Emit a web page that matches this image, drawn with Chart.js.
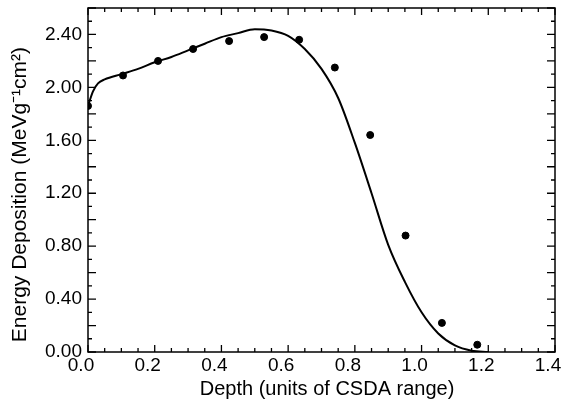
<!DOCTYPE html>
<html>
<head>
<meta charset="utf-8">
<script src="https://cdn.jsdelivr.net/npm/chart.js@4.4.0/dist/chart.umd.min.js"></script>
<style>
  html, body { margin: 0; padding: 0; background: #fff; }
  #wrap { width: 564px; height: 409px; }
</style>
</head>
<body>
<div id="wrap"><canvas id="depthChart"></canvas></div>
<script>
// measured points (dots)
const pointDepth = [0.0, 0.105, 0.21, 0.315, 0.423, 0.528, 0.633, 0.74, 0.846, 0.952, 1.061, 1.167];
const pointEnergy = [1.86, 2.09, 2.20, 2.29, 2.35, 2.38, 2.36, 2.15, 1.64, 0.88, 0.22, 0.055];

// calculated curve
const curveDepth = [0.0, 0.015, 0.03, 0.05, 0.1, 0.15, 0.2, 0.25, 0.3, 0.35, 0.4, 0.45, 0.5, 0.55, 0.6, 0.65, 0.7, 0.75, 0.8, 0.85, 0.9, 0.95, 1.0, 1.05, 1.1, 1.15, 1.2];
const curveEnergy = [1.86, 1.97, 2.03, 2.06, 2.10, 2.14, 2.19, 2.23, 2.28, 2.33, 2.38, 2.41, 2.44, 2.43, 2.39, 2.29, 2.14, 1.92, 1.58, 1.20, 0.81, 0.53, 0.30, 0.14, 0.05, 0.01, 0.0];

const xMajorStep = 0.2;
const yLabelStep = 0.4;
const yMajorStep = 0.2;

const font = "'Liberation Sans', Arial, sans-serif";

const isMultiple = (v, step) => Math.abs(v / step - Math.round(v / step)) < 1e-6;

// frame with inward ticks on all four sides
const framePlugin = {
    id: 'frame',
    afterDraw(chart) {
        const { ctx, chartArea: a, scales } = chart;
        ctx.save();
        ctx.strokeStyle = '#000';
        ctx.lineWidth = 1.5;
        ctx.strokeRect(a.left, a.top, a.right - a.left, a.bottom - a.top);
        ctx.lineWidth = 1.3;
        ctx.beginPath();
        scales.x.ticks.forEach(t => {
            const px = scales.x.getPixelForValue(t.value);
            const len = isMultiple(t.value, xMajorStep) ? 7 : 4;
            ctx.moveTo(px, a.bottom); ctx.lineTo(px, a.bottom - len);
            ctx.moveTo(px, a.top); ctx.lineTo(px, a.top + len);
        });
        scales.y.ticks.forEach(t => {
            const py = scales.y.getPixelForValue(t.value);
            const len = isMultiple(t.value, yMajorStep) ? 8 : 4;
            ctx.moveTo(a.left, py); ctx.lineTo(a.left + len, py);
            ctx.moveTo(a.right, py); ctx.lineTo(a.right - len, py);
        });
        ctx.stroke();
        ctx.restore();
    }
};

new Chart(document.getElementById('depthChart'), {
    type: 'scatter',
    data: {
        datasets: [
            {
                label: 'Measured',
                data: pointDepth.map((x, i) => ({ x, y: pointEnergy[i] })),
                backgroundColor: '#000',
                borderColor: '#000',
                pointRadius: 3.5,
                showLine: false,
            },
            {
                label: 'Calculated',
                data: curveDepth.map((x, i) => ({ x, y: curveEnergy[i] })),
                borderColor: '#000',
                borderWidth: 2,
                pointRadius: 0,
                showLine: true,
                cubicInterpolationMode: 'monotone',
                fill: false,
            }
        ]
    },
    plugins: [framePlugin],
    options: {
        responsive: true,
        maintainAspectRatio: false,
        animation: false,
        layout: { padding: { top: 8, right: 9, left: 0, bottom: 0 } },
        plugins: {
            legend: { display: false },
            tooltip: { enabled: false },
        },
        scales: {
            x: {
                type: 'linear',
                min: 0,
                max: 1.4,
                grid: { display: false, drawTicks: false },
                border: { display: false },
                afterFit: (scale) => {
                    scale.height = 57;
                    scale.paddingLeft = 0;
                    scale.paddingRight = 0;
                },
                ticks: {
                    stepSize: 0.05,
                    autoSkip: false,
                    maxRotation: 0,
                    padding: 2,
                    labelOffset: -7,
                    color: '#000',
                    font: { family: font, size: 19 },
                    callback: (v) => isMultiple(v, xMajorStep) ? v.toFixed(1) : '',
                },
                title: {
                    display: true,
                    text: '  Depth (units of CSDA range)',
                    color: '#000',
                    font: { family: font, size: 20 },
                    padding: { top: 0, bottom: 8 },
                }
            },
            y: {
                type: 'linear',
                min: 0,
                max: 2.6,
                grid: { display: false, drawTicks: false },
                border: { display: false },
                afterFit: (scale) => {
                    scale.width = 88;
                    scale.paddingTop = 0;
                    scale.paddingBottom = 0;
                },
                ticks: {
                    stepSize: 0.1,
                    autoSkip: false,
                    padding: 6,
                    color: '#000',
                    font: { family: font, size: 19 },
                    callback: (v) => isMultiple(v, yLabelStep) ? v.toFixed(2) : '',
                },
                title: {
                    display: true,
                    text: 'Energy Deposition (MeVg\u207B\u00B9cm\u00B2)     ',
                    color: '#000',
                    font: { family: font, size: 21 },
                    padding: { top: 8, bottom: 0 },
                }
            }
        }
    }
});
</script>
</body>
</html>
